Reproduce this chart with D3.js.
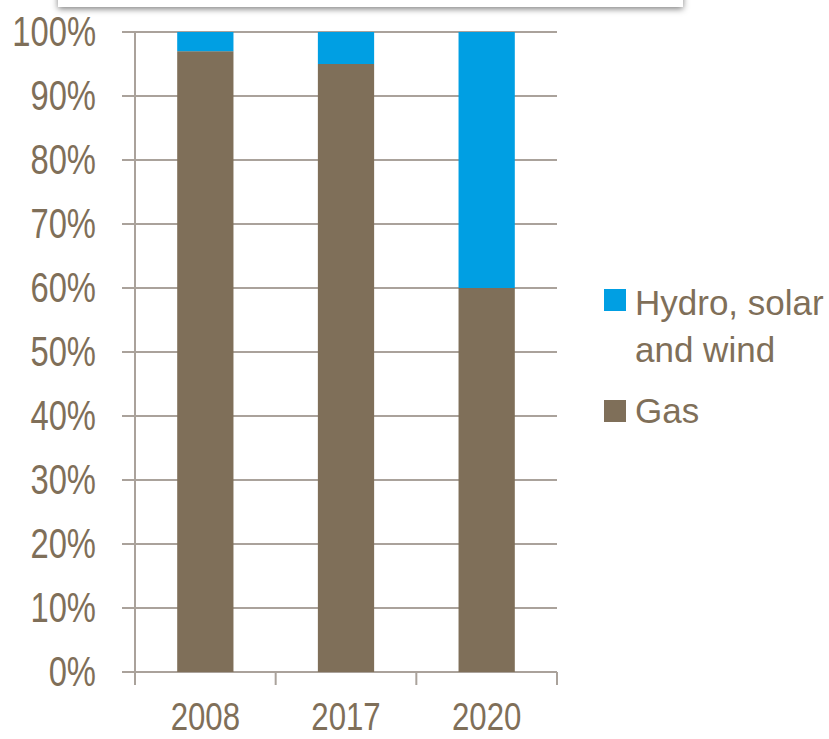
<!DOCTYPE html>
<html>
<head>
<meta charset="UTF-8">
<title>Generation mix</title>
<script src="https://d3js.org/d3.v7.min.js"></script>
<style>
  body { margin: 0; background: #fff; }
  svg text { font-family: "Liberation Sans", Arial, sans-serif; fill: #7f6f59; }
</style>
</head>
<body>
<svg id="chart"></svg>
<script>
// data
const years = ["2008", "2017", "2020"];
const gas = [97, 95, 60];
const renewables = [3, 5, 40];
const seriesNames = ["Hydro, solar and wind", "Gas"];
const yTicks = [0, 10, 20, 30, 40, 50, 60, 70, 80, 90, 100];

const width = 829, height = 739;
const brown = "#7f6f59", blue = "#009fe3", grid = "#aaa29b";
const narrow = 0.78; // squeeze to look like Arial Narrow

const svg = d3.select("#chart").attr("width", width).attr("height", height);

// shadowed box at the very top (bottom edge of a header panel)
const defs = svg.append("defs");
const f = defs.append("filter").attr("id", "shadow").attr("x", "-5%").attr("y", "-50%").attr("width", "110%").attr("height", "200%");
f.append("feDropShadow").attr("dx", 0).attr("dy", 2).attr("stdDeviation", 3).attr("flood-color", "#000").attr("flood-opacity", 0.5);
svg.append("rect").attr("x", 58).attr("y", -40).attr("width", 625).attr("height", 47)
  .attr("fill", "#fff").attr("filter", "url(#shadow)");

const x = d3.scaleBand().domain(years).range([135, 557]).paddingInner(0.6).paddingOuter(0.3);
const y = d3.scaleLinear().domain([0, 100]).range([672, 32]);

// gridlines
svg.append("g").selectAll("line").data(yTicks).join("line")
  .attr("x1", 122).attr("x2", 557)
  .attr("y1", d => y(d)).attr("y2", d => y(d))
  .attr("stroke", grid).attr("stroke-width", 2);

// y axis line
svg.append("line").attr("x1", 135).attr("x2", 135).attr("y1", y(100)).attr("y2", 685)
  .attr("stroke", grid).attr("stroke-width", 2);

// category tick marks at band boundaries
const step = x.step();
const bounds = d3.range(years.length + 1).map(i => 135 + i * step);
svg.append("g").selectAll("line").data(bounds).join("line")
  .attr("x1", d => d).attr("x2", d => d).attr("y1", y(0)).attr("y2", 685)
  .attr("stroke", grid).attr("stroke-width", 2);

// stacked bars
const rows = years.map((yr, i) => ({ year: yr, gas: gas[i], ren: renewables[i] }));
const stack = d3.stack().keys(["gas", "ren"])(rows);
const colors = { gas: brown, ren: blue };
svg.append("g").selectAll("g").data(stack).join("g")
  .attr("fill", s => colors[s.key])
  .selectAll("rect").data(s => s).join("rect")
  .attr("x", d => x(d.data.year))
  .attr("width", x.bandwidth())
  .attr("y", d => y(d[1]))
  .attr("height", d => y(d[0]) - y(d[1]));

// y labels
svg.append("g").selectAll("text").data(yTicks).join("text")
  .attr("transform", d => `translate(96,${y(d) + 14}) scale(${narrow},1)`)
  .attr("text-anchor", "end")
  .style("font-size", "42px")
  .text(d => d + "%");

// x labels
svg.append("g").selectAll("text").data(years).join("text")
  .attr("transform", d => `translate(${x(d) + x.bandwidth() / 2},730) scale(0.8,1)`)
  .attr("text-anchor", "middle")
  .style("font-size", "39px")
  .text(d => d);

// legend
const legend = svg.append("g");
legend.append("rect").attr("x", 604).attr("y", 289).attr("width", 22).attr("height", 22).attr("fill", blue);
legend.append("text").attr("x", 635).attr("y", 315).style("font-size", "35px").text("Hydro, solar");
legend.append("text").attr("x", 635).attr("y", 362).style("font-size", "35px").text("and wind");
legend.append("rect").attr("x", 604).attr("y", 400).attr("width", 22).attr("height", 22).attr("fill", brown);
legend.append("text").attr("x", 635).attr("y", 423).style("font-size", "35px").text(seriesNames[1]);
</script>
</body>
</html>
